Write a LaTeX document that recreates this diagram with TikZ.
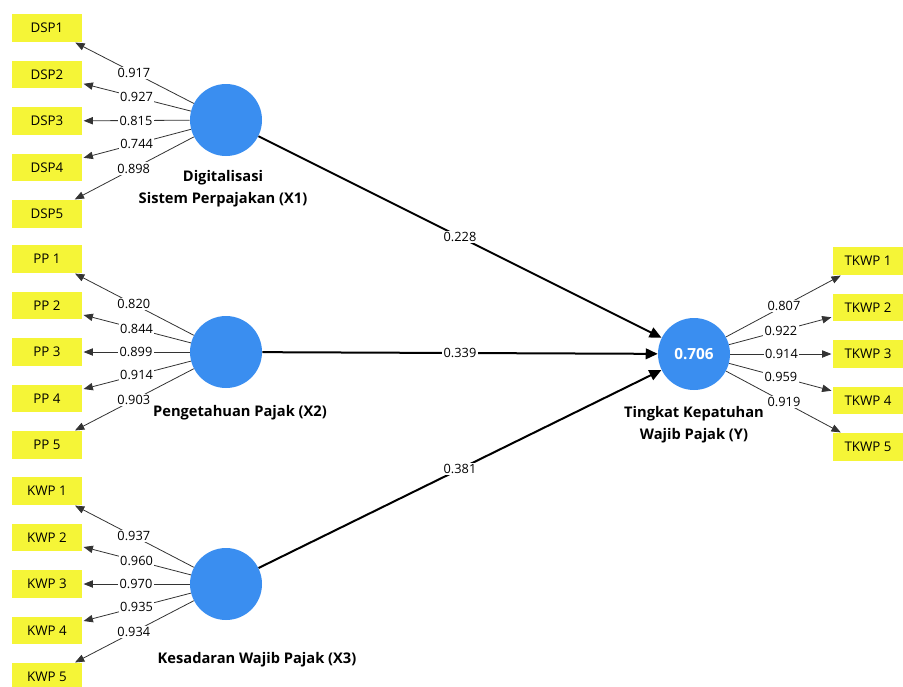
\documentclass[tikz,border=0pt]{standalone}
\usepackage{fontspec}
\setmainfont{Open Sans}
\usetikzlibrary{arrows.meta}
\definecolor{lvblue}{RGB}{58,142,240}
\definecolor{mvyellow}{RGB}{245,245,55}
\begin{document}
\begin{tikzpicture}[x=0.75pt,y=-0.75pt,
  lv/.style={circle,fill=lvblue,minimum size=54pt,inner sep=0pt},
  mv/.style={rectangle,fill=mvyellow,minimum width=52.5pt,minimum height=20.5pt,inner sep=0pt,font=\fontsize{10}{12}\selectfont},
  load/.style={draw=black!80,line width=0.6pt,-{Triangle[length=7pt,width=5.5pt]},shorten >=1pt},
  inner/.style={draw=black,line width=1.5pt,-{Triangle[length=9pt,width=8pt]}},
  lbl/.style={fill=white,inner sep=1pt,font=\fontsize{9.6}{11}\selectfont},
  lvname/.style={font=\bfseries\fontsize{11}{16.5}\selectfont,align=center}]
\useasboundingbox (0,0) rectangle (903,686);

% latent variables
\node[lv] (x1) at (226,120) {};
\node[lv] (x2) at (226,352) {};
\node[lv] (x3) at (226,584) {};
\node[lv,font=\bfseries\fontsize{11.5}{13}\selectfont,text=white] (y) at (694,354) {0.706};

% latent names
\node[lvname] (n1) at (223,189) {Digitalisasi\\Sistem Perpajakan (X1)};
\node[lvname] (n2) at (240,413) {Pengetahuan Pajak (X2)};
\node[lvname] (n3) at (257,660) {Kesadaran Wajib Pajak (X3)};
\node[lvname] (ny) at (694,425) {Tingkat Kepatuhan\\Wajib Pajak (Y)};

% indicators X1
\node[mv] (dsp1) at (47,28) {DSP1};
\node[mv] (dsp2) at (47,74.5) {DSP2};
\node[mv] (dsp3) at (47,121) {DSP3};
\node[mv] (dsp4) at (47,167.5) {DSP4};
\node[mv] (dsp5) at (47,214) {DSP5};
% indicators X2
\node[mv] (pp1) at (47,259) {PP 1};
\node[mv] (pp2) at (47,305.5) {PP 2};
\node[mv] (pp3) at (47,352) {PP 3};
\node[mv] (pp4) at (47,398.5) {PP 4};
\node[mv] (pp5) at (47,445) {PP 5};
% indicators X3
\node[mv] (kwp1) at (47,491) {KWP 1};
\node[mv] (kwp2) at (47,537.5) {KWP 2};
\node[mv] (kwp3) at (47,584) {KWP 3};
\node[mv] (kwp4) at (47,630.5) {KWP 4};
\node[mv] (kwp5) at (47,677) {KWP 5};
% indicators Y
\node[mv] (t1) at (868,261) {TKWP 1};
\node[mv] (t2) at (868,307.5) {TKWP 2};
\node[mv] (t3) at (868,354) {TKWP 3};
\node[mv] (t4) at (868,400.5) {TKWP 4};
\node[mv] (t5) at (868,447) {TKWP 5};

% loadings X1
\draw[load] (x1) -- node[lbl]{0.917} (dsp1);
\draw[load] (x1) -- node[lbl]{0.927} (dsp2);
\draw[load] (x1) -- node[lbl]{0.815} (dsp3);
\draw[load] (x1) -- node[lbl]{0.744} (dsp4);
\draw[load] (x1) -- node[lbl]{0.898} (dsp5);
% loadings X2
\draw[load] (x2) -- node[lbl]{0.820} (pp1);
\draw[load] (x2) -- node[lbl]{0.844} (pp2);
\draw[load] (x2) -- node[lbl]{0.899} (pp3);
\draw[load] (x2) -- node[lbl]{0.914} (pp4);
\draw[load] (x2) -- node[lbl]{0.903} (pp5);
% loadings X3
\draw[load] (x3) -- node[lbl]{0.937} (kwp1);
\draw[load] (x3) -- node[lbl]{0.960} (kwp2);
\draw[load] (x3) -- node[lbl]{0.970} (kwp3);
\draw[load] (x3) -- node[lbl]{0.935} (kwp4);
\draw[load] (x3) -- node[lbl]{0.934} (kwp5);
% loadings Y
\draw[load] (y) -- node[lbl]{0.807} (t1);
\draw[load] (y) -- node[lbl]{0.922} (t2);
\draw[load] (y) -- node[lbl]{0.914} (t3);
\draw[load] (y) -- node[lbl]{0.959} (t4);
\draw[load] (y) -- node[lbl]{0.919} (t5);

% structural paths
\draw[inner] (x1) -- node[lbl]{0.228} (y);
\draw[inner] (x2) -- node[lbl]{0.339} (y);
\draw[inner] (x3) -- node[lbl]{0.381} (y);
\end{tikzpicture}
\end{document}
